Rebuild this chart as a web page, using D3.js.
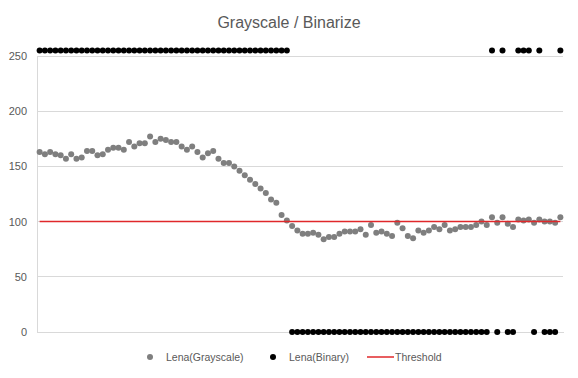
<!DOCTYPE html>
<html>
<head>
<meta charset="utf-8">
<script src="https://cdn.jsdelivr.net/npm/d3@7"></script>
<style>
  html, body { margin: 0; padding: 0; background: #fff; }
  svg { display: block; font-family: "Liberation Sans", "DejaVu Sans", sans-serif; }
</style>
</head>
<body>
<svg id="chart" width="578" height="378"></svg>
<script>
const title = "Grayscale / Binarize";
const seriesNames = ["Lena(Grayscale)", "Lena(Binary)", "Threshold"];
const grayscale = [163,161,163,161,160,157,161,157,158,164,164,160,161,165,167,167,165,172,168,171,
                   171,177,172,175,174,172,172,168,165,168,163,158,162,164,157,153,153,150,146,142,
                   138,134,130,126,120,117,106,101,96,92,89,89,90,88,84,86,86,89,91,91,
                   91,93,88,97,90,91,89,87,99,94,87,85,92,90,92,95,93,97,92,93,
                   95,95,95,97,100,97,104,99,104,98,95,102,101,102,99,102,100,100,99,104];
const binary = [255,255,255,255,255,255,255,255,255,255,255,255,255,255,255,255,255,255,255,255,
                255,255,255,255,255,255,255,255,255,255,255,255,255,255,255,255,255,255,255,255,
                255,255,255,255,255,255,255,255,0,0,0,0,0,0,0,0,0,0,0,0,
                0,0,0,0,0,0,0,0,0,0,0,0,0,0,0,0,0,0,0,0,
                0,0,0,0,0,0,255,0,255,0,0,255,255,255,0,255,0,0,0,255];
const thresholdValue = 100;
const yTicks = [0, 50, 100, 150, 200, 250];

const categories = d3.range(1, grayscale.length + 1);
const threshold = categories.map(() => thresholdValue);

const svg = d3.select("#chart");
const plot = { left: 37, right: 563, top: 56, bottom: 332 };

const x = d3.scaleBand().domain(categories).range([plot.left, plot.right]);
const cx = d => x(d) + x.bandwidth() / 2;
const y = d3.scaleLinear().domain([0, 250]).range([plot.bottom, plot.top]);

// title
svg.append("text")
  .attr("x", 289).attr("y", 28)
  .attr("text-anchor", "middle")
  .attr("font-size", 16)
  .attr("fill", "#595959")
  .text(title);

// gridlines
svg.append("g")
  .selectAll("line")
  .data(yTicks.filter(t => t > 0))
  .join("line")
  .attr("x1", plot.left).attr("x2", plot.right)
  .attr("y1", d => y(d)).attr("y2", d => y(d))
  .attr("stroke", "#d9d9d9").attr("stroke-width", 1)
  .attr("shape-rendering", "crispEdges");

// y axis
const yAxis = d3.axisLeft(y).tickValues(yTicks).tickSize(0).tickPadding(10);
const gy = svg.append("g").attr("transform", `translate(${plot.left},0)`).call(yAxis);
gy.select(".domain").attr("stroke", "#d9d9d9").attr("shape-rendering", "crispEdges");
gy.selectAll("text").attr("font-size", 11).attr("fill", "#595959")
  .attr("font-family", "Liberation Sans, sans-serif");

// x axis line
const xAxis = d3.axisBottom(x).tickValues([]).tickSize(0);
const gx = svg.append("g").attr("transform", `translate(0,${plot.bottom})`).call(xAxis);
gx.select(".domain").attr("stroke", "#d9d9d9").attr("shape-rendering", "crispEdges");

// grayscale points
svg.append("g")
  .selectAll("circle")
  .data(grayscale)
  .join("circle")
  .attr("cx", (d, i) => cx(categories[i]))
  .attr("cy", d => y(d))
  .attr("r", 3)
  .attr("fill", "#7f7f7f");

// binary points
svg.append("g")
  .selectAll("circle")
  .data(binary)
  .join("circle")
  .attr("cx", (d, i) => cx(categories[i]))
  .attr("cy", d => y(d))
  .attr("r", 3)
  .attr("fill", "#000000");

// threshold line
const line = d3.line().x((d, i) => cx(categories[i])).y(d => y(d));
svg.append("path")
  .datum(threshold)
  .attr("d", line)
  .attr("fill", "none")
  .attr("stroke", "#e0282b")
  .attr("stroke-width", 1.5);

// legend
const legendY = 357;
const lg = svg.append("g").attr("font-size", 10.5).attr("fill", "#595959");
lg.append("circle").attr("cx", 150).attr("cy", legendY).attr("r", 3).attr("fill", "#7f7f7f");
lg.append("text").attr("x", 166).attr("y", legendY + 4).text(seriesNames[0]);
lg.append("circle").attr("cx", 273).attr("cy", legendY).attr("r", 3).attr("fill", "#000");
lg.append("text").attr("x", 289).attr("y", legendY + 4).text(seriesNames[1]);
lg.append("line").attr("x1", 367).attr("x2", 394).attr("y1", legendY).attr("y2", legendY)
  .attr("stroke", "#e0282b").attr("stroke-width", 1.5);
lg.append("text").attr("x", 395).attr("y", legendY + 4).text(seriesNames[2]);
</script>
</body>
</html>
